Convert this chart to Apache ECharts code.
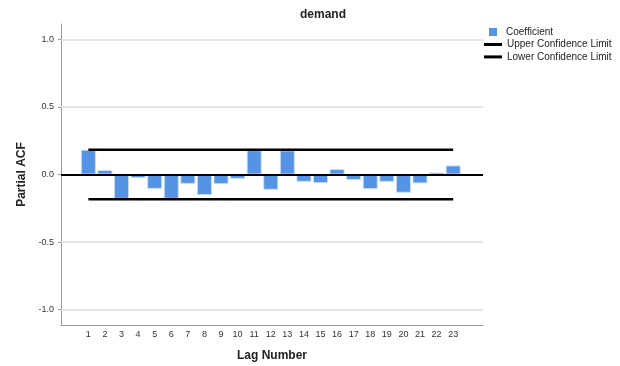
<!DOCTYPE html>
<html>
<head>
<meta charset="utf-8">
<script src="https://cdn.jsdelivr.net/npm/echarts@6/dist/echarts.min.js"></script>
<style>
  html, body { margin: 0; padding: 0; background: #fff; }
  #chart { width: 620px; height: 366px; }
</style>
</head>
<body>
<div id="chart"></div>
<script>
// Partial autocorrelation of "demand" by lag
const lags = [1, 2, 3, 4, 5, 6, 7, 8, 9, 10, 11, 12, 13, 14, 15, 16, 17, 18, 19, 20, 21, 22, 23];
const coefficients = [0.183, 0.033, -0.180, -0.026, -0.106, -0.180, -0.069, -0.152, -0.071, -0.032,
  0.180, -0.113, 0.178, -0.054, -0.064, 0.040, -0.041, -0.108, -0.054, -0.135, -0.066, 0.015, 0.067];
const upperLimit = 0.183;
const lowerLimit = -0.183;
const yTicks = [-1.0, -0.5, 0.0, 0.5, 1.0];

const font = "'Liberation Sans', Arial, sans-serif";
const chart = echarts.init(document.getElementById('chart'), null, { renderer: 'canvas' });

const gridLines = yTicks.filter(v => v !== 0).map(v => ({ yAxis: v, lineStyle: { color: '#dcdcdc', width: 1.5, type: 'solid' } }));

chart.setOption({
  animation: false,
  backgroundColor: '#ffffff',
  textStyle: { fontFamily: font },
  title: {
    text: 'demand',
    left: 300,
    top: 9,
    padding: 0,
    textStyle: { fontSize: 12, fontWeight: 'bold', color: '#222', fontFamily: font }
  },
  legend: [
    {
      data: [{ name: 'Coefficient', icon: 'rect', itemStyle: { borderWidth: 0 } }],
      left: 489,
      top: 26,
      padding: 0,
      itemWidth: 8,
      itemHeight: 8,
      itemGap: 0,
      itemStyle: { borderWidth: 0 },
      textStyle: { fontSize: 10, color: '#222', lineHeight: 12, padding: [0, 0, 0, 4], fontFamily: font }
    },
    {
      data: [
        { name: 'Upper Confidence Limit', icon: 'rect' },
        { name: 'Lower Confidence Limit', icon: 'rect' }
      ],
      orient: 'vertical',
      left: 484,
      top: 38.5,
      padding: 0,
      itemWidth: 18,
      itemHeight: 3,
      itemGap: 0.4,
      textStyle: { fontSize: 10, color: '#222', lineHeight: 12, fontFamily: font }
    }
  ],
  grid: { left: 61, right: 137, top: 24, bottom: 41, containLabel: false, outerBoundsMode: 'none' },
  xAxis: {
    type: 'value',
    min: -0.65,
    max: 24.8,
    name: 'Lag Number',
    nameLocation: 'middle',
    nameGap: 25,
    nameTextStyle: { fontSize: 12, fontWeight: 'bold', color: '#222', fontFamily: font },
    axisLine: { onZero: false, lineStyle: { color: '#999', width: 1 } },
    axisTick: { show: false },
    splitLine: { show: false },
    axisLabel: { customValues: lags, fontSize: 9, color: '#333', margin: 5, fontFamily: font }
  },
  yAxis: {
    type: 'value',
    min: -1.113,
    max: 1.113,
    name: 'Partial ACF',
    nameLocation: 'middle',
    nameGap: 31,
    nameRotate: 90,
    nameTextStyle: { fontSize: 12, fontWeight: 'bold', color: '#222', fontFamily: font },
    axisLine: { show: true, onZero: false, lineStyle: { color: '#999', width: 1 } },
    axisTick: { show: true, customValues: yTicks, length: 3, lineStyle: { color: '#999' } },
    splitLine: { show: false },
    axisLabel: {
      customValues: yTicks,
      fontSize: 9,
      color: '#333',
      margin: 7,
      fontFamily: font,
      formatter: v => v.toFixed(1)
    }
  },
  series: [
    {
      name: 'Coefficient',
      type: 'bar',
      barWidth: 15,
      data: lags.map((lag, i) => [lag, coefficients[i]]),
      itemStyle: { color: '#5593e4', borderColor: 'rgba(200,222,248,0.9)', borderWidth: 1 },
      markLine: {
        silent: true,
        symbol: 'none',
        label: { show: false },
        data: gridLines.concat([{ yAxis: 0, lineStyle: { color: '#000', width: 2, type: 'solid' } }])
      },
      z: 2
    },
    {
      name: 'Upper Confidence Limit',
      type: 'line',
      symbol: 'none',
      data: [[lags[0], upperLimit], [lags[lags.length - 1], upperLimit]],
      itemStyle: { color: '#000' },
      lineStyle: { color: '#000', width: 2.5 },
      z: 3
    },
    {
      name: 'Lower Confidence Limit',
      type: 'line',
      symbol: 'none',
      data: [[lags[0], lowerLimit], [lags[lags.length - 1], lowerLimit]],
      itemStyle: { color: '#000' },
      lineStyle: { color: '#000', width: 2.5 },
      z: 3
    }
  ]
});
</script>
</body>
</html>
